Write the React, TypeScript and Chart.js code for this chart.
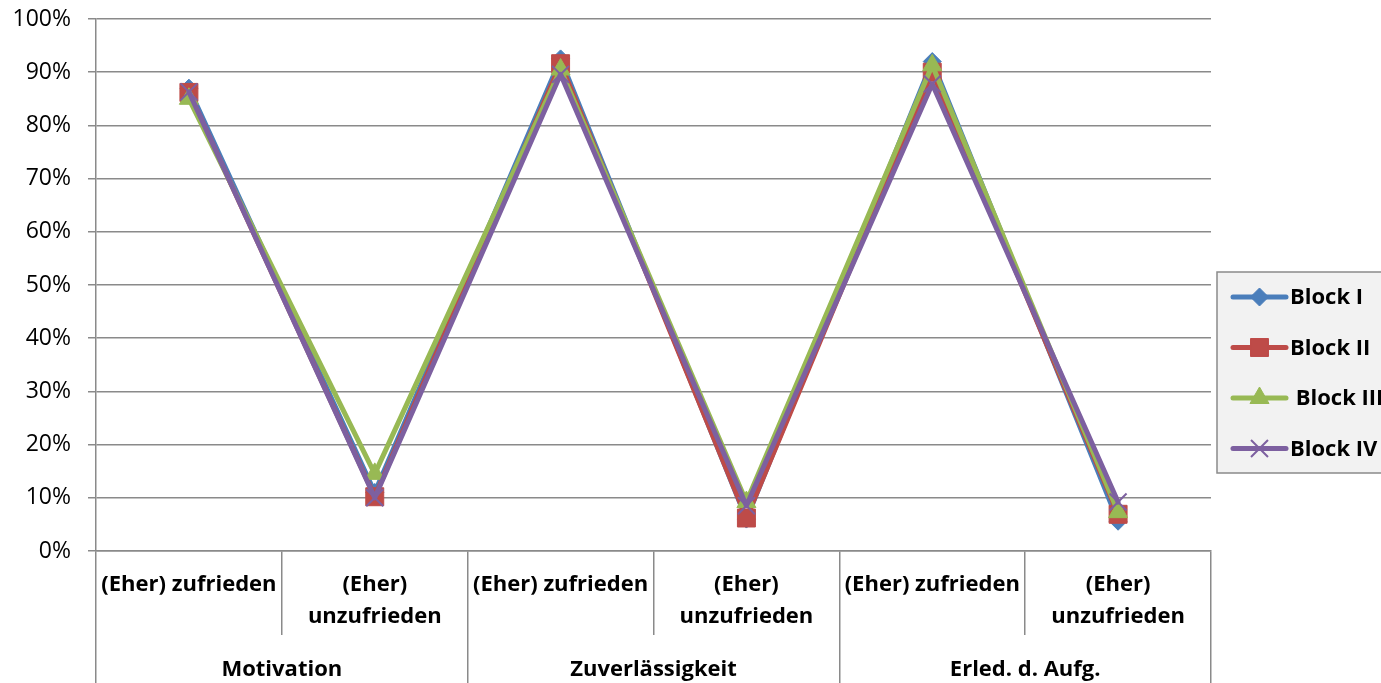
import React, { useEffect, useRef } from 'react';
import { Chart, registerables } from 'chart.js';
import { drawPoint } from 'chart.js/helpers';

Chart.register(...registerables);

const CATEGORIES: string[][] = [
  ['(Eher) zufrieden'],
  ['(Eher)', 'unzufrieden'],
  ['(Eher) zufrieden'],
  ['(Eher)', 'unzufrieden'],
  ['(Eher) zufrieden'],
  ['(Eher)', 'unzufrieden'],
];
const GROUPS = ['Motivation', 'Zuverlässigkeit', 'Erled. d. Aufg.'];

const SERIES_NAMES = ['Block I', 'Block II', ' Block III', 'Block IV'];
const BLOCK_I = [87, 11, 92.5, 6, 92, 5.6];
const BLOCK_II = [86.2, 10.2, 91.6, 6.2, 90, 6.9];
const BLOCK_III = [85, 14.5, 90.5, 9.2, 91.3, 7.3];
const BLOCK_IV = [86.3, 10, 89.6, 8.5, 87.8, 9.2];

const COLORS = ['#4a7ebb', '#be4b48', '#98b954', '#7d60a0'];
const POINT_STYLES = ['rectRot', 'rect', 'triangle', 'crossRot'];
const POINT_RADII = [9, 12.7, 11, 12];

const Y_MIN = 0;
const Y_MAX = 100;
const Y_STEP = 10;

const GRID = '#8a8a8a';
const FONT = 'Open Sans';

const legendPlugin = {
  id: 'boxLegend',
  afterDraw(chart: any) {
    const ctx = chart.ctx;
    const x0 = 1217;
    const y0 = 272;
    const w = 200;
    const h = 201;
    ctx.save();
    ctx.fillStyle = '#f2f2f2';
    ctx.fillRect(x0, y0, w, h);
    ctx.strokeStyle = '#8a8a8a';
    ctx.lineWidth = 1.5;
    ctx.strokeRect(x0, y0, w, h);
    chart.data.datasets.forEach((ds: any, i: number) => {
      const cy = 297 + i * 50.5;
      ctx.strokeStyle = ds.borderColor;
      ctx.lineWidth = 5;
      ctx.lineCap = 'round';
      ctx.beginPath();
      ctx.moveTo(1233, cy);
      ctx.lineTo(1286, cy);
      ctx.stroke();
      ctx.fillStyle = ds.pointBackgroundColor;
      ctx.strokeStyle = ds.pointBorderColor;
      ctx.lineWidth = ds.pointBorderWidth;
      ctx.lineCap = 'butt';
      drawPoint(ctx, { pointStyle: ds.pointStyle, rotation: 0, radius: ds.pointRadius, borderWidth: ds.pointBorderWidth }, 1259.5, cy);
      ctx.fillStyle = '#000';
      ctx.font = `bold 22px "${FONT}"`;
      ctx.textBaseline = 'middle';
      ctx.textAlign = 'left';
      ctx.fillText(ds.label, 1290, cy + 1);
    });
    ctx.restore();
  },
};

export default function App() {
  const ref = useRef<HTMLCanvasElement>(null);
  useEffect(() => {
    document.body.style.margin = '0';
    document.body.style.overflow = 'hidden';
    const values = [BLOCK_I, BLOCK_II, BLOCK_III, BLOCK_IV];
    const chart = new Chart(ref.current!, {
      type: 'line',
      data: {
        labels: CATEGORIES,
        datasets: values.map((v, i) => ({
          label: SERIES_NAMES[i],
          data: v,
          order: 4 - i,
          borderColor: COLORS[i],
          backgroundColor: COLORS[i],
          borderWidth: 5,
          borderJoinStyle: 'round',
          borderCapStyle: 'round',
          tension: 0,
          pointStyle: POINT_STYLES[i],
          pointRadius: POINT_RADII[i],
          pointBackgroundColor: COLORS[i],
          pointBorderColor: COLORS[i],
          pointBorderWidth: i === 3 ? 2 : 1,
          xAxisID: 'x',
          yAxisID: 'y',
        })) as any,
      },
      options: {
        animation: false,
        responsive: false,
        events: [],
        layout: { padding: { top: 19, right: 170, left: 0, bottom: 0 } },
        plugins: { legend: { display: false }, tooltip: { enabled: false } },
        scales: {
          y: {
            min: Y_MIN,
            max: Y_MAX,
            ticks: {
              stepSize: Y_STEP,
              callback: (v: any) => `${v}%`,
              color: '#000',
              font: { family: FONT, size: 23 },
              padding: 17,
            },
            grid: { color: GRID, lineWidth: 1.5, tickLength: 8 },
            border: { display: true, color: GRID, width: 1.5 },
            afterFit: (s: any) => { s.width = 96; s.paddingTop = 0; s.paddingBottom = 0; },
          },
          x: {
            type: 'category',
            position: 'bottom',
            weight: 1,
            offset: true,
            ticks: {
              color: '#000',
              font: { family: FONT, size: 22, weight: 'bold', lineHeight: 1.45 },
              autoSkip: false,
              maxRotation: 0,
              minRotation: 0,
              padding: -66,
            },
            grid: { display: true, drawOnChartArea: false, offset: true, tickLength: 84, color: GRID, lineWidth: 1.5 },
            border: { display: true, color: GRID, width: 1.5 },
            afterFit: (s: any) => { s.height = 84; },
          },
          x2: {
            type: 'category',
            position: 'bottom',
            weight: 2,
            offset: true,
            labels: GROUPS,
            ticks: {
              color: '#000',
              font: { family: FONT, size: 22, weight: 'bold', lineHeight: 1.45 },
              autoSkip: false,
              maxRotation: 0,
              minRotation: 0,
              padding: -29,
            },
            grid: { display: true, drawOnChartArea: false, offset: true, tickLength: 48, color: GRID, lineWidth: 1.5 },
            border: { display: false },
            afterFit: (s: any) => { s.height = 48; },
          },
        },
      } as any,
      plugins: [legendPlugin],
    });
    return () => chart.destroy();
  }, []);
  return (
    <div style={{ width: 1381, height: 683, position: 'relative', overflow: 'hidden', background: '#fff' }}>
      <canvas ref={ref} width={1381} height={683} style={{ display: 'block' }} />
    </div>
  );
}
